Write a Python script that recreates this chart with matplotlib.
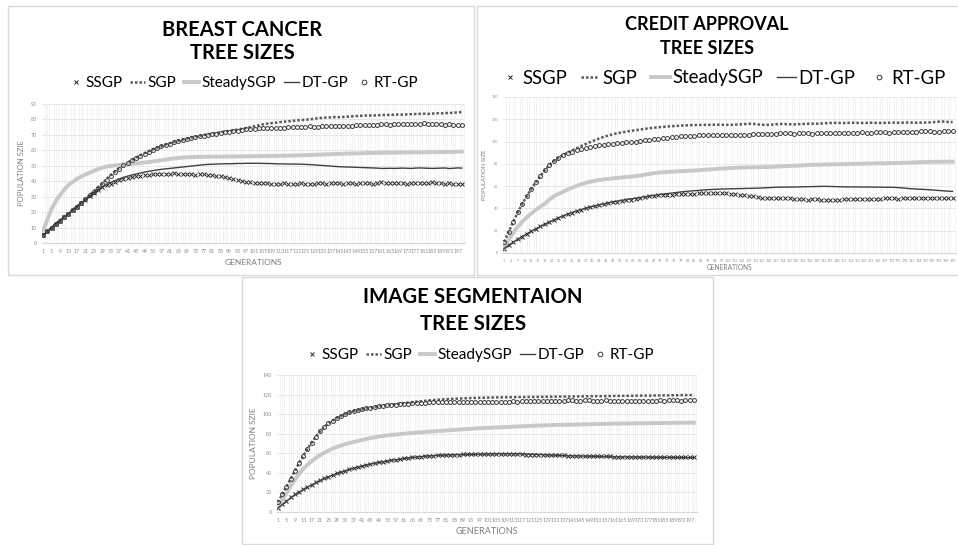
import numpy as np
import matplotlib.pyplot as plt
from matplotlib.patches import Rectangle

plt.rcParams['font.family'] = ['Lato', 'DejaVu Sans']

W, H = 958, 545

gens = list(range(1, 200, 2))
names = ['SSGP', 'SGP', 'SteadySGP', 'DT-GP', 'RT-GP']

#BREAST CANCER
bc_ssgp = [5, 7.5, 10, 12.5, 14.5, 17, 19, 21.5, 23.5, 26,
           28, 30.5, 32.5, 34.5, 36, 37.5, 38.5, 39.5, 40.5, 41.3,
           42, 42.6, 43.2, 43.6, 44, 44.2, 44.5, 44.6, 44.8, 45,
           45, 45.1, 44.9, 44.6, 44.4, 44.5, 44.3, 44.4, 44.5, 44.2,
           44, 43.6, 43.3, 42.8, 42.2, 41.6, 40.9, 40.2, 39.7, 39.4,
           39.1, 38.9, 38.7, 38.6, 38.5, 38.3, 38.5, 38.6, 38.4, 38.3,
           38.5, 38.7, 38.4, 38.2, 38.5, 38.8, 38.6, 38.4, 38.7, 38.9,
           38.6, 38.5, 38.8, 38.7, 38.4, 38.6, 38.9, 38.7, 38.5, 38.8,
           39.2, 39.0, 38.7, 38.9, 39.1, 38.8, 38.5, 38.7, 38.9, 38.6,
           38.8, 39.1, 39.3, 38.9, 38.6, 38.4, 38.7, 38.5, 38.3, 38.4]
bc_sgp = [5, 7.5, 10, 12.5, 14.5, 17, 19, 21.5, 23.5, 26,
          28.5, 31, 33.5, 36, 38.5, 41.5, 44, 46.5, 48.5, 50.5,
          52, 53.8, 55.3, 56.8, 58.2, 59.5, 60.7, 61.8, 62.8, 63.8,
          64.7, 65.5, 66.3, 67, 67.6, 68.3, 68.9, 69.4, 70, 70.4,
          70.8, 71.3, 71.7, 72.2, 72.6, 73, 73.5, 74, 74.4, 75,
          75.6, 76.2, 76.8, 77.3, 77.6, 77.9, 78.3, 78.6, 78.8, 79.1,
          79.4, 79.6, 79.8, 80, 80.4, 80.8, 81, 81.2, 81.3, 81.5,
          81.4, 81.6, 81.8, 82, 82.2, 82.3, 82.5, 82.6, 82.5, 82.7,
          82.8, 83, 82.9, 83.1, 83.2, 83.1, 83.3, 83.4, 83.5, 83.6,
          83.7, 83.6, 83.8, 84, 83.9, 84.1, 84.2, 84.3, 84.6, 84.8]
bc_steady = [8, 15, 22, 27, 31, 34.5, 37.5, 39.5, 41.5, 43,
             44.3, 45.5, 46.7, 47.8, 48.8, 49.5, 49.9, 50.2, 50.5, 50.7,
             51, 51.2, 51.5, 51.8, 52.1, 52.4, 52.8, 53.2, 53.6, 54,
             54.4, 54.8, 55.1, 55.3, 55.5, 55.6, 55.7, 55.8, 55.8, 55.9,
             55.9, 55.9, 56, 56, 56, 56, 56.1, 56.1, 56.1, 56.2,
             56.2, 56.2, 56.3, 56.3, 56.4, 56.4, 56.5, 56.5, 56.6, 56.6,
             56.7, 56.8, 56.9, 57, 57.1, 57.2, 57.3, 57.4, 57.5, 57.6,
             57.7, 57.8, 57.9, 58, 58, 58.1, 58.2, 58.3, 58.3, 58.4,
             58.4, 58.5, 58.5, 58.5, 58.6, 58.6, 58.6, 58.7, 58.7, 58.7,
             58.7, 58.8, 58.8, 58.8, 58.9, 58.9, 59, 59, 59.1, 59.2]
bc_dt = [5, 7.5, 10, 12.5, 14.5, 17, 19, 21.5, 23.5, 26,
         28, 30.5, 32.5, 34.5, 36.2, 37.8, 39.2, 40.4, 41.5, 42.5,
         43.3, 44, 44.7, 45.3, 45.9, 46.4, 46.9, 47.3, 47.7, 48,
         48.3, 48.6, 48.9, 49.2, 49.5, 49.8, 50.1, 50.4, 50.7, 50.9,
         51, 51.1, 51.2, 51.3, 51.3, 51.4, 51.5, 51.5, 51.6, 51.6,
         51.6, 51.6, 51.5, 51.5, 51.4, 51.3, 51.2, 51.2, 51.1, 51.1,
         51.1, 51, 50.9, 50.8, 50.6, 50.4, 50.2, 50, 49.8, 49.6,
         49.4, 49.3, 49.2, 49.1, 49, 48.9, 48.8, 48.7, 48.6, 48.5,
         48.3, 48.3, 48.4, 48.3, 48.4, 48.5, 48.4, 48.3, 48.5, 48.6,
         48.5, 48.4, 48.3, 48.4, 48.5, 48.6, 48.2, 48.4, 48.6, 48.5]
bc_rt = [5, 7.5, 10, 12.5, 14.5, 16.8, 19, 21.3, 23.5, 25.8,
         28.3, 30.8, 33.3, 35.8, 38.2, 41, 43.6, 46, 48.2, 50.2,
         51.8, 53.5, 55, 56.5, 57.9, 59.2, 60.4, 61.5, 62.5, 63.5,
         64.4, 65.2, 66, 66.7, 67.3, 68, 68.6, 69.1, 69.6, 70,
         70.4, 70.8, 71.2, 71.6, 72, 72.4, 72.8, 73.2, 73.5, 73.8,
         74, 74.2, 74.3, 74.2, 74.4, 74.6, 74.4, 74.6, 74.9, 75.1,
         75.3, 75.1, 75.4, 75.6, 75.4, 75.3, 75.6, 75.8, 75.7, 75.9,
         76, 75.8, 75.6, 75.9, 76.1, 76.3, 76.2, 76.4, 76.2, 76.6,
         77, 76.8, 76.5, 76.8, 77.1, 76.9, 77.2, 77.3, 77, 77.2,
         77.4, 77.1, 76.9, 77, 76.8, 76.6, 76.9, 76.5, 76.3, 76.4]

#CREDIT APPROVAL
ca_ssgp = [4, 7, 9.7, 12.3, 14.8, 17.2, 19.5, 21.7, 23.8, 25.8,
           27.8, 29.8, 31.6, 33.3, 34.9, 36.3, 37.7, 39, 40.2, 41.3,
           42.3, 43.2, 44, 44.8, 45.5, 46.2, 46.8, 47.4, 48, 48.5,
           49.5, 50.2, 50.8, 51.3, 51.7, 52, 52.3, 52.5, 52.7, 52.8,
           53, 53.1, 53.3, 53.4, 53.5, 53.5, 53.4, 53.5, 53.6, 53.4,
           53.2, 52.9, 52.5, 52, 51.4, 50.8, 50.2, 49.8, 49.6, 49.5,
           49.4, 49.6, 49.5, 49.2, 48.8, 48.4, 48.1, 48, 48.2, 48.3,
           48, 47.6, 47.4, 47.5, 47.8, 48.1, 48.3, 48.4, 48.5, 48.4,
           48.5, 48.6, 48.5, 48.7, 49, 49.2, 49, 48.8, 49.1, 49.4,
           49.5, 49.3, 49.1, 49, 49.2, 49.4, 49.6, 49.7, 49.5, 49.6]
ca_sgp = [10, 19, 28, 36.5, 44, 51, 57.5, 63.5, 69, 74.5,
          79, 82.5, 85.5, 88, 90, 92, 94, 96, 97.8, 99.5,
          101.2, 102.8, 104.2, 105.5, 106.6, 107.5, 108.3, 109, 109.6, 110.2,
          110.8, 111.4, 111.9, 112.4, 112.8, 113.2, 113.5, 113.8, 114, 114.3,
          114.5, 114.7, 114.8, 114.9, 115, 115, 115.1, 115.2, 115.1, 115,
          115, 115.2, 115.4, 115.7, 116, 115.8, 115.4, 115.1, 115, 115.2,
          115.5, 115.8, 115.7, 115.5, 115.4, 115.6, 115.8, 116, 116.1, 116,
          116.2, 116.5, 116.7, 116.8, 116.7, 116.6, 116.8, 116.9, 116.8, 116.7,
          116.8, 116.9, 116.8, 116.7, 116.8, 116.9, 117, 116.9, 117, 117.1,
          117, 116.9, 117, 117.1, 117.2, 117.5, 117.9, 118, 117.6, 117.5]
ca_steady = [5, 12, 18, 23.5, 28, 32, 35.5, 38.7, 41.6, 44.3,
             48, 51, 53, 55, 56.8, 58.5, 60.2, 61.7, 63, 64,
             64.8, 65.5, 66, 66.5, 67, 67.4, 67.8, 68.2, 68.6, 69,
             69.5, 70.3, 71, 71.6, 72.1, 72.5, 72.8, 73, 73.2, 73.4,
             73.6, 73.8, 74, 74.3, 74.6, 74.9, 75.2, 75.5, 75.8, 76,
             76.2, 76.4, 76.6, 76.7, 76.8, 76.9, 77, 77.1, 77.2, 77.3,
             77.5, 77.7, 77.9, 78.1, 78.3, 78.5, 78.7, 78.9, 79.1, 79.2,
             79.3, 79.4, 79.5, 79.6, 79.7, 79.8, 79.9, 80, 80, 80.1,
             80.2, 80.3, 80.4, 80.5, 80.5, 80.6, 80.7, 80.8, 80.9, 81,
             81.2, 81.4, 81.6, 81.7, 81.8, 81.8, 81.9, 81.9, 82, 82]
ca_dt = [4, 7, 9.7, 12.3, 14.8, 17.2, 19.5, 21.7, 23.8, 25.8,
         27.8, 29.8, 31.6, 33.3, 34.9, 36.3, 37.7, 39, 40.2, 41.3,
         42.3, 43.3, 44.2, 45, 45.8, 46.6, 47.3, 48, 48.6, 49.2,
         49.8, 50.4, 51, 51.6, 52.2, 52.8, 53.3, 53.8, 54.3, 54.8,
         55.2, 55.6, 55.9, 56.2, 56.5, 56.8, 57, 57.2, 57.4, 57.5,
         57.6, 57.7, 57.8, 57.9, 58, 58.1, 58.2, 58.4, 58.6, 58.8,
         59, 59.1, 59.1, 59.2, 59.2, 59.3, 59.4, 59.5, 59.6, 59.7,
         59.8, 59.8, 59.7, 59.6, 59.5, 59.4, 59.3, 59.3, 59.3, 59.2,
         59.2, 59.2, 59.1, 59.1, 59, 59, 58.9, 58.7, 58.4, 58,
         57.6, 57.4, 57.2, 57, 56.7, 56.4, 56.1, 55.8, 55.5, 55.3]
ca_rt = [10, 19, 28, 36.5, 44, 51, 57.5, 63.5, 69, 74.5,
         79, 82.5, 85.5, 87.8, 89.5, 91, 92.2, 93.2, 94.2, 95,
         95.8, 96.5, 97.1, 97.6, 98.1, 98.5, 98.9, 99.3, 99.6, 100,
         100.5, 101, 101.5, 102, 102.5, 103, 103.4, 103.8, 104.2, 104.6,
         104.9, 105.2, 105.4, 105.5, 105.6, 105.8, 105.9, 106, 106.1, 106,
         106.1, 106.3, 106.2, 106, 106.2, 106.4, 106.6, 106.8, 107, 107.1,
         107.2, 107.3, 107.4, 107.3, 107.2, 107.4, 107.5, 107.3, 107.2, 107.4,
         107.5, 107.7, 107.6, 107.4, 107.6, 107.8, 108, 108.1, 108, 108.2,
         108.1, 108, 108.2, 108.3, 108.2, 108.1, 108.3, 108.4, 108.3, 108.4,
         108.6, 108.8, 109.2, 109.5, 109.2, 108.9, 109, 109.3, 109.4, 109.2]

#IMAGE SEGMENTATION
is_ssgp = [4, 8, 11.5, 15, 18, 20.8, 23.3, 25.7, 28, 30.2,
           32.3, 34.3, 36.1, 37.8, 39.4, 40.9, 42.3, 43.6, 44.9, 46.1,
           47.2, 48.2, 49.1, 50, 50.8, 51.6, 52.3, 53, 53.6, 54.2,
           54.8, 55.3, 55.8, 56.2, 56.6, 57, 57.3, 57.6, 57.9, 58.1,
           58.3, 58.5, 58.6, 58.7, 58.8, 58.9, 59, 59, 59.1, 59.1,
           59.2, 59.2, 59.1, 59.1, 59, 59, 58.9, 58.9, 58.8, 58.7,
           58.6, 58.5, 58.4, 58.3, 58.2, 58.1, 58, 57.9, 57.8, 57.7,
           57.6, 57.5, 57.4, 57.3, 57.2, 57.1, 57, 56.9, 56.9, 56.8,
           56.7, 56.7, 56.6, 56.6, 56.5, 56.5, 56.4, 56.4, 56.3, 56.3,
           56.3, 56.2, 56.2, 56.2, 56.1, 56.1, 56.1, 56, 56, 56]
is_sgp = [10, 18, 26, 34, 42, 50, 57.5, 64.5, 71, 77,
          82.5, 87, 90.5, 93.5, 96, 98.3, 100.2, 101.8, 103, 104,
          105, 105.8, 106.6, 107.3, 108, 108.6, 109.2, 109.8, 110.3, 110.8,
          111.3, 111.8, 112.3, 112.8, 113.2, 113.6, 114, 114.4, 114.7, 115,
          115.3, 115.5, 115.7, 115.9, 116.1, 116.3, 116.5, 116.6, 116.7, 116.8,
          116.9, 117, 117.1, 117.1, 117.2, 117.3, 117.3, 117.4, 117.5, 117.5,
          117.6, 117.6, 117.7, 117.7, 117.8, 117.8, 117.9, 117.9, 118, 118,
          118.1, 118.1, 118.2, 118.2, 118.3, 118.3, 118.4, 118.4, 118.5, 118.5,
          118.6, 118.6, 118.7, 118.7, 118.8, 118.8, 118.9, 118.9, 119, 119,
          119.1, 119.1, 119.2, 119.2, 119.3, 119.3, 119.4, 119.4, 119.5, 119.5]
is_steady = [5, 12, 19.5, 26.5, 33, 39, 44, 48.2, 52, 55.2,
             58, 60.5, 62.8, 64.8, 66.5, 68, 69.3, 70.5, 71.6, 72.6,
             73.6, 74.6, 75.5, 76.3, 77, 77.7, 78.3, 78.8, 79.2, 79.6,
             80, 80.4, 80.8, 81.2, 81.5, 81.8, 82.1, 82.4, 82.7, 83,
             83.3, 83.6, 83.9, 84.2, 84.5, 84.8, 85.1, 85.4, 85.6, 85.8,
             86, 86.2, 86.4, 86.6, 86.8, 87, 87.2, 87.4, 87.6, 87.8,
             88, 88.2, 88.3, 88.5, 88.6, 88.8, 88.9, 89, 89.1, 89.2,
             89.3, 89.4, 89.5, 89.6, 89.7, 89.8, 89.9, 90, 90.1, 90.2,
             90.3, 90.3, 90.4, 90.5, 90.5, 90.6, 90.7, 90.7, 90.8, 90.8,
             90.9, 90.9, 91, 91, 91.1, 91.1, 91.2, 91.2, 91.3, 91.3]
is_dt = [4, 7.5, 11, 14.5, 17.5, 20.3, 22.9, 25.4, 27.7, 29.9,
         32, 34, 35.9, 37.6, 39.2, 40.7, 42.1, 43.4, 44.7, 45.9,
         47, 48, 48.9, 49.8, 50.6, 51.4, 52.1, 52.8, 53.4, 54,
         54.6, 55.2, 55.7, 56.2, 56.6, 57, 57.3, 57.6, 57.8, 58,
         58.2, 58.4, 58.5, 58.6, 58.7, 58.8, 58.9, 59, 59.1, 59.2,
         59.3, 59.4, 59.4, 59.5, 59.5, 59.5, 59.4, 59.4, 59.3, 59.2,
         59.1, 59, 58.8, 58.6, 58.4, 58.2, 58, 57.8, 57.6, 57.5,
         57.4, 57.3, 57.2, 57.1, 57, 56.9, 56.8, 56.7, 56.6, 56.5,
         56.4, 56.4, 56.3, 56.3, 56.2, 56.2, 56.1, 56.1, 56, 56,
         55.9, 55.9, 55.8, 55.8, 55.7, 55.7, 55.6, 55.6, 55.5, 55.5]
is_rt = [10, 18, 26, 34, 42, 50, 57.5, 64.5, 71, 77,
         82.5, 87, 90.5, 93.5, 96, 98.3, 100.2, 101.8, 103, 104,
         105, 105.8, 106.6, 107.3, 108, 108.5, 109, 109.4, 109.8, 110.2,
         110.5, 110.8, 111.1, 111.4, 111.6, 111.8, 112, 112.1, 112.2, 112.3,
         112.4, 112.5, 112.4, 112.6, 112.5, 112.7, 112.4, 112.6, 112.8, 112.5,
         112.3, 112.6, 112.9, 112.7, 112.5, 112.8, 113, 112.8, 113.1, 113.3,
         113.5, 113.2, 113.4, 113.7, 113.5, 113.3, 113.6, 113.9, 113.7, 114,
         114.2, 113.9, 113.7, 114, 114.2, 113.8, 113.6, 113.9, 114.1, 113.8,
         113.6, 113.4, 113.7, 113.9, 113.5, 113.3, 113.6, 113.4, 113.2, 113.5,
         113.8, 114.1, 113.9, 114.2, 114.4, 114.1, 113.9, 114.2, 114.4, 114.3]


def fx(px):
    return px / W


def fy(py):
    return 1 - py / H


def panel(box, area, title, series, ymax, ystep, xstep, ylabel, sz):
    #рамка вокруг диаграммы
    x0, y0, x1, y1 = box
    fig.patches.append(Rectangle((fx(x0), fy(y1)), (x1 - x0) / W, (y1 - y0) / H,
                                 transform=fig.transFigure, fill=False,
                                 ec='#d9d9d9', lw=1))
    a0, b0, a1, b1 = area
    ax = fig.add_axes([fx(a0), fy(b1), (a1 - a0) / W, (b1 - b0) / H])

    #заголовок в две строки
    tx = title[0]
    fig.text(fx(tx), fy(title[2]), title[1], ha='center', va='center',
             fontsize=sz['title'], fontweight='bold', color='black')
    fig.text(fx(tx), fy(title[3]), 'TREE SIZES', ha='center', va='center',
             fontsize=sz['title'], fontweight='bold', color='black')

    ssgp, sgp, steady, dt, rt = series
    h = []
    h += ax.plot(gens, ssgp, ls='none', marker='x', ms=sz['ms'], mew=0.7,
                 color='#262626')
    h += ax.plot(gens, sgp, ls=(0, (1, 0.8)), lw=1.8, color='#5a5a5a')
    h += ax.plot(gens, steady, ls='-', lw=2.8, color='#c8c8c8')
    h += ax.plot(gens, dt, ls='-', lw=1.0, color='#404040')
    h += ax.plot(gens, rt, ls='none', marker='o', ms=sz['ms'], mfc='none',
                 mec='#3a3a3a', mew=0.7)

    ax.set_xlim(0.5, 200.5)
    ax.set_ylim(0, ymax)
    ax.set_yticks(np.arange(0, ymax + 1, ystep))
    ax.set_xticks(np.arange(1, 201, xstep))
    ax.set_xticks(np.arange(1, 201), minor=True)
    ax.tick_params(which='both', length=0, labelsize=sz['tick'],
                   labelcolor='#8c8c8c')
    ax.tick_params(axis='x', pad=4)
    ax.grid(which='minor', axis='x', color='#efefef', lw=0.5)
    ax.grid(which='major', axis='y', color='#e4e4e4', lw=0.6)
    ax.set_axisbelow(True)
    for s in ['top', 'left', 'right']:
        ax.spines[s].set_visible(False)
    ax.spines['bottom'].set_color('#d9d9d9')

    ax.set_ylabel(ylabel, fontsize=sz['ylab'], color='#7f7f7f')
    ax.yaxis.set_label_coords((sz['ylx'] - a0) / (a1 - a0), 0.5)
    ax.set_xlabel('GENERATIONS', fontsize=sz['xlab'], color='#7f7f7f', va='center')
    ax.xaxis.set_label_coords(0.5, (b1 - sz['xly']) / (b1 - b0))

    ax.legend(h, names, loc='center', bbox_to_anchor=(fx(sz['lx']), fy(sz['ly'])),
              bbox_transform=fig.transFigure, ncol=5, frameon=False,
              fontsize=sz['leg'], numpoints=1, markerscale=1.2,
              handlelength=1.0, handletextpad=0.15, columnspacing=sz['cs'],
              borderpad=0.2)
    return ax


fig = plt.figure(figsize=(W / 100, H / 100), dpi=100)
fig.patch.set_facecolor('white')

panel((8, 6, 474, 275), (42, 104, 465, 243),
      (242, 'BREAST CANCER', 30, 53),
      [bc_ssgp, bc_sgp, bc_steady, bc_dt, bc_rt], 90, 10, 4, 'POPULATION SZIE',
      dict(title=14.5, leg=11, tick=3.8, ylab=5.5, xlab=6, ylx=25, xly=262,
           lx=243, ly=83, ms=2.8, cs=0.5))

panel((477, 6, 960, 275), (503, 97, 956, 253),
      (707, 'CREDIT APPROVAL', 25, 48),
      [ca_ssgp, ca_sgp, ca_steady, ca_dt, ca_rt], 140, 20, 3, 'POPULATION SIZE',
      dict(title=13, leg=13.4, tick=2.6, ylab=4.2, xlab=4.8, ylx=487, xly=267,
           lx=723, ly=78, ms=2.8, cs=0.75))

panel((242, 277, 713, 544), (277, 375, 697, 512),
      (473, 'IMAGE SEGMENTAION', 297, 324),
      [is_ssgp, is_sgp, is_steady, is_dt, is_rt], 140, 20, 4, 'POPULATION SZIE',
      dict(title=14.7, leg=11, tick=3.8, ylab=6, xlab=6.5, ylx=257, xly=531,
           lx=479, ly=355, ms=2.8, cs=0.5))

plt.savefig('out.png', dpi=100)
